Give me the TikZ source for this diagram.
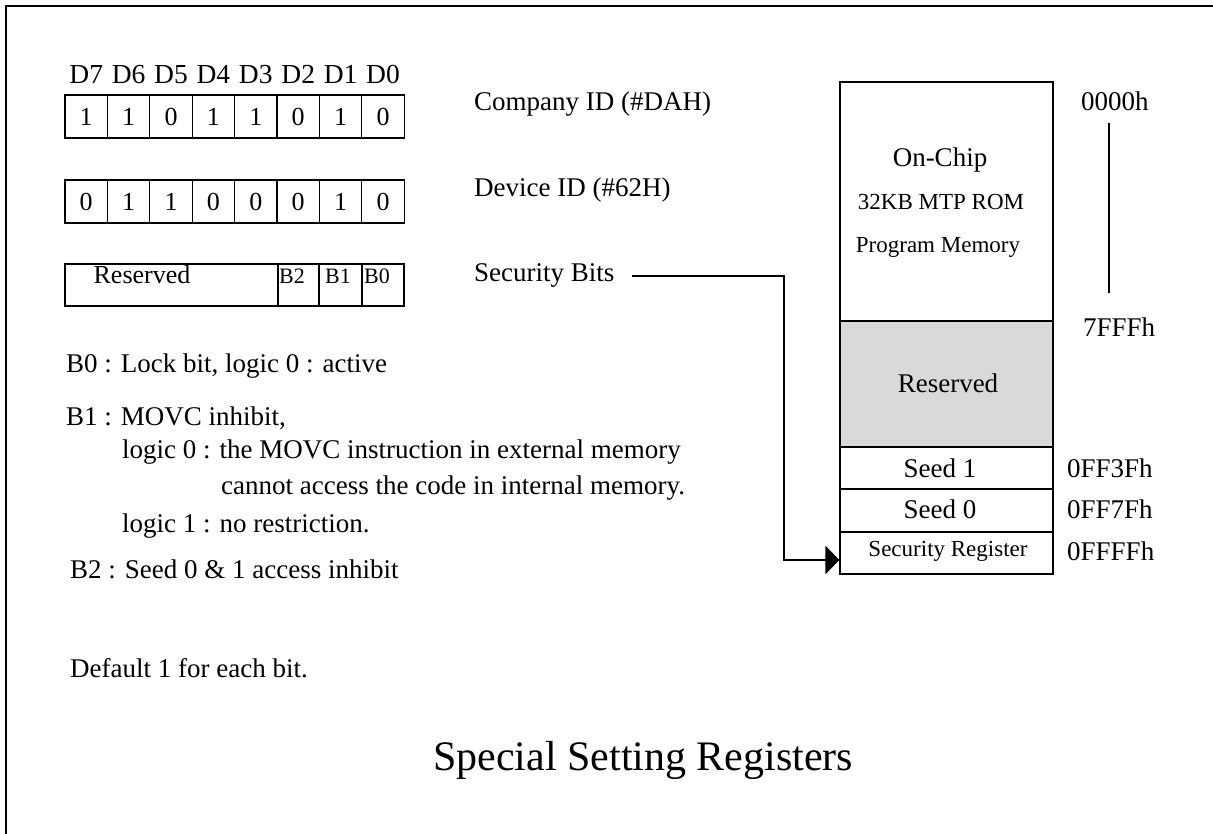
\documentclass[tikz,border=0pt]{standalone}
\usepackage{fontspec}
\setmainfont{Liberation Serif}
\usetikzlibrary{arrows.meta}
\begin{document}
\begin{tikzpicture}[x=1pt,y=-1pt,
  txt/.style={anchor=base west, inner sep=0pt, font=\fontsize{27}{32}\selectfont},
  txtc/.style={anchor=base, inner sep=0pt, font=\fontsize{27}{32}\selectfont},
  smallc/.style={anchor=base, inner sep=0pt, font=\fontsize{23}{28}\selectfont},
  cell/.style={draw, line width=1.1pt, minimum width=42.4pt, minimum height=43pt, inner sep=0pt, font=\fontsize{26}{30}\selectfont},
  memblk/.style={draw, line width=1.1pt, minimum width=213pt, inner sep=0pt},
  conn/.style={line width=1.1pt},
  frame/.style={line width=2.6pt}]
\useasboundingbox (0,0) rectangle (1213,834);
\draw[frame] (6,840) -- (6,6) -- (1220,6);

% bit labels
\foreach \l [count=\i from 0] in {D7,D6,D5,D4,D3,D2,D1,D0}
  \node[txtc, font=\fontsize{27.5}{32}\selectfont] (lab\i) at ({65+21.2+42.4*\i},84) {\l};

% company id register
\foreach \v [count=\i from 0] in {1,1,0,1,1,0,1,0}
  \node[cell] (c\i) at ({65+21.2+42.4*\i},116.5) {\v};
% device id register
\foreach \v [count=\i from 0] in {0,1,1,0,0,0,1,0}
  \node[cell] (d\i) at ({65+21.2+42.4*\i},201.5) {\v};
% security register bits
\node[cell, minimum width=213pt, minimum height=42pt] (sres) at (171.5,285) {};
\node[txtc, font=\fontsize{26}{30}\selectfont] (sreslab) at (142,284) {Reserved};
\node[cell, minimum width=41pt, minimum height=42pt] (sb2) at (298.5,285) {};
\node[cell, minimum width=43pt, minimum height=42pt] (sb1) at (340.5,285) {};
\node[cell, minimum width=42pt, minimum height=42pt] (sb0) at (383,285) {};
\node[anchor=base, inner sep=0pt, font=\fontsize{22}{26}\selectfont] (b2t) at (292,284) {B2};
\node[anchor=base, inner sep=0pt, font=\fontsize{22}{26}\selectfont] (b1t) at (338,284) {B1};
\node[anchor=base, inner sep=0pt, font=\fontsize{22}{26}\selectfont] (b0t) at (377,284) {B0};

% labels middle
\node[txt] (comp) at (474,111) {Company ID (\#DAH)};
\node[txt] (dev) at (474,197) {Device ID (\#62H)};
\node[txt] (secbits) at (474,282) {Security Bits};
\coordinate (sbstart) at (632,276);

% descriptions
\node[txt] (t1) at (66,372) {B0 : Lock bit, logic 0 : active};
\node[txt] (t2) at (66,425) {B1 : MOVC inhibit,};
\node[txt] (t3) at (122,458) {logic 0 : the MOVC instruction in external memory};
\node[txt] (t4) at (221,494) {cannot access the code in internal memory.};
\node[txt] (t5) at (122,532) {logic 1 : no restriction.};
\node[txt] (t6) at (70,578) {B2 : Seed 0 \& 1 access inhibit};
\node[txt] (t7) at (70,677) {Default 1 for each bit.};

% memory map
\node[memblk, minimum height=239pt] (rom) at (946.5,201.5) {};
\node[memblk, minimum height=126pt, fill={rgb,255:red,217;green,217;blue,217}] (rsv) at (946.5,384) {};
\node[memblk, minimum height=42pt] (seed1) at (946.5,468) {};
\node[memblk, minimum height=43pt] (seed0) at (946.5,510.5) {};
\node[memblk, minimum height=42pt] (secreg) at (946.5,553) {};

\node[txtc] (onchip) at (940,167) {On-Chip};
\node[smallc] (kb) at (941,210) {32KB MTP ROM};
\node[smallc] (pm) at (938,253) {Program Memory};
\node[txtc] (rsvt) at (948,392) {Reserved};
\node[txtc] (s1t) at (940,477) {Seed 1};
\node[txtc] (s0t) at (940,518) {Seed 0};
\node[smallc] (srt) at (948,556) {Security Register};

% addresses
\node[txt] (a0) at (1081,111) {0000h};
\node[txt] (a1) at (1083,337) {7FFFh};
\node[txt] (a2) at (1067,477) {0FF3Fh};
\node[txt] (a3) at (1067,518) {0FF7Fh};
\node[txt] (a4) at (1067,560) {0FFFFh};
\coordinate (vtop) at (1109,123);
\coordinate (vbot) at (1109,293);
\draw[line width=1.1pt] (vtop) -- (vbot);

% connector
\draw[conn, -{Triangle[length=14pt,width=28pt]}] (sbstart) -- (784,276) |- ([yshift=-7pt]secreg.west);

% title
\node[anchor=base west, inner sep=0pt, font=\fontsize{42}{48}\selectfont] (title) at (433,770) {Special Setting Registers};
\end{tikzpicture}
\end{document}
